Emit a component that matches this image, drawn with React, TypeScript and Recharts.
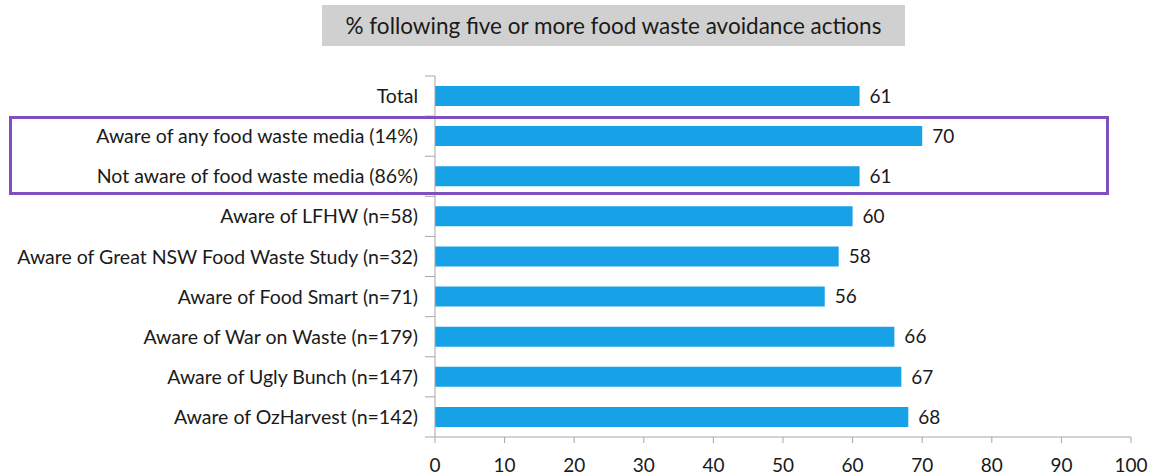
import React from "react";
import { BarChart, Bar, XAxis, YAxis, LabelList } from "recharts";

const categories = [
  "Total",
  "Aware of any food waste media (14%)",
  "Not aware of food waste media (86%)",
  "Aware of LFHW (n=58)",
  "Aware of Great NSW Food Waste Study (n=32)",
  "Aware of Food Smart (n=71)",
  "Aware of War on Waste (n=179)",
  "Aware of Ugly Bunch (n=147)",
  "Aware of OzHarvest (n=142)",
];
const values = [61, 70, 61, 60, 58, 56, 66, 67, 68];
const xTicks = [0, 10, 20, 30, 40, 50, 60, 70, 80, 90, 100];
const title = "% following five or more food waste avoidance actions";

const data = categories.map((name, i) => ({ name, value: values[i] }));

const FONT = "Lato, 'Liberation Sans', sans-serif";
const AXIS = "#A6A6A6";
const TXT = "#1a1a1a";

function renderCatTick(props: any) {
  const { x, y, payload, index } = props;
  const half = payload && payload.offset ? payload.offset : 20;
  return (
    <g key={"t" + index}>
      <text x={x - 9} y={y} dy={7} textAnchor="end" fontSize={19.5} fontFamily={FONT} fill={TXT}>
        {payload.value}
      </text>
      <line x1={x - 2} x2={x + 8} y1={y + half} y2={y + half} stroke={AXIS} strokeWidth={1} />
      {index === 0 ? (
        <line x1={x - 2} x2={x + 8} y1={y - half} y2={y - half} stroke={AXIS} strokeWidth={1} />
      ) : null}
    </g>
  );
}

export default function App() {
  return (
    <div style={{ position: "absolute", left: 0, top: 0, width: 1153, height: 476, background: "#fff" }}>
      <BarChart
        width={1153}
        height={476}
        data={data}
        layout="vertical"
        margin={{ top: 76, right: 22, bottom: 0, left: 0 }}
        barSize={20}
      >
        <XAxis
          type="number"
          domain={[0, 100]}
          ticks={xTicks}
          interval={0}
          height={39}
          axisLine={{ stroke: AXIS }}
          tickLine={{ stroke: AXIS }}
          tickSize={6}
          tick={{ fontSize: 19, fontFamily: FONT, fill: TXT, dy: 14 }}
        />
        <YAxis
          type="category"
          dataKey="name"
          width={435}
          axisLine={{ stroke: AXIS }}
          tickLine={false}
          tick={renderCatTick}
          interval={0}
        />
        <Bar dataKey="value" fill="#17A2E7" isAnimationActive={false}>
          <LabelList dataKey="value" position="right" offset={10} fontSize={19} fontFamily={FONT} fill={TXT} />
        </Bar>
      </BarChart>
      <div
        style={{
          position: "absolute",
          left: 322,
          top: 5,
          width: 583,
          height: 41,
          background: "#D0D0D0",
          display: "flex",
          alignItems: "center",
          justifyContent: "center",
          fontFamily: FONT,
          fontSize: 22.5,
          color: TXT,
        }}
      >
        {title}
      </div>
      <div
        style={{
          position: "absolute",
          left: 9,
          top: 116,
          width: 1100,
          height: 79,
          boxSizing: "border-box",
          border: "3px solid #7F4FBF",
          pointerEvents: "none",
        }}
      />
    </div>
  );
}
